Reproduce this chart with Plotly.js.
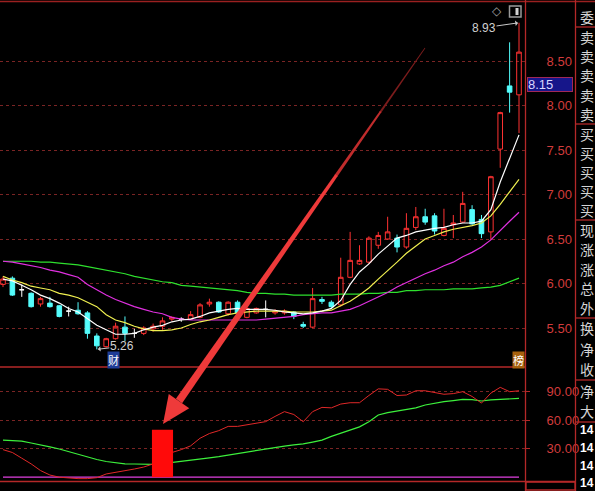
<!DOCTYPE html>
<html>
<head>
<meta charset="utf-8">
<script src="https://cdn.plot.ly/plotly-3.0.1.min.js"></script>
<style>
  html, body { margin: 0; padding: 0; background: #000; }
  #chart { width: 595px; height: 491px; }
</style>
</head>
<body>
<div id="chart"></div>
<script>
// Daily K-line: open / high / low / close
const opens  = [5.99,6.06,5.93,5.89,5.77,5.78,5.75,5.69,5.70,5.67,5.41,5.29,5.38,5.51,5.44,5.44,5.49,5.52,5.60,5.60,
                5.60,5.62,5.77,5.79,5.66,5.79,5.62,5.67,5.71,5.67,5.67,5.68,5.54,5.51,5.82,5.79,5.76,6.07,6.22,6.24,
                6.43,6.50,6.51,6.41,6.63,6.75,6.76,6.54,6.66,6.69,6.83,6.72,6.58,7.51,8.22,8.12];
const highs  = [6.08,6.08,5.99,5.90,5.85,5.85,5.76,5.74,5.79,5.69,5.44,5.39,5.56,5.63,5.49,5.52,5.55,5.62,5.63,5.62,
                5.69,5.78,5.83,5.80,5.80,5.81,5.73,5.73,5.81,5.71,5.71,5.69,5.57,5.95,5.85,5.81,6.29,6.58,6.43,6.53,
                6.58,6.75,6.55,6.79,6.86,6.84,6.79,6.84,6.77,7.03,6.88,6.77,7.21,7.93,8.71,8.93];
const lows   = [5.96,5.86,5.85,5.73,5.74,5.73,5.62,5.63,5.65,5.38,5.26,5.28,5.37,5.35,5.39,5.42,5.46,5.48,5.58,5.57,
                5.59,5.61,5.74,5.67,5.64,5.66,5.61,5.66,5.62,5.65,5.65,5.60,5.50,5.50,5.77,5.72,5.74,6.06,6.21,6.22,
                6.39,6.49,6.35,6.39,6.60,6.66,6.55,6.53,6.51,6.68,6.66,6.51,6.49,7.30,7.92,7.69];
const closes = [6.05,5.87,5.93,5.74,5.83,5.74,5.63,5.69,5.66,5.44,5.30,5.38,5.52,5.44,5.44,5.50,5.52,5.58,5.62,5.60,
                5.65,5.76,5.79,5.68,5.79,5.67,5.72,5.72,5.71,5.69,5.69,5.63,5.52,5.83,5.80,5.74,6.07,6.26,6.26,6.51,
                6.54,6.58,6.41,6.62,6.75,6.69,6.59,6.62,6.68,6.90,6.67,6.56,7.20,7.92,8.15,8.60];

// Moving averages
const ma5  = [6.05,6.03,5.98,5.93,5.87,5.83,5.78,5.72,5.68,5.61,5.53,5.48,5.43,5.43,5.44,5.48,5.51,5.53,5.57,5.59,
              5.60,5.63,5.67,5.69,5.71,5.72,5.71,5.71,5.71,5.70,5.68,5.67,5.66,5.67,5.69,5.72,5.81,5.99,6.13,6.22,
              6.33,6.42,6.51,6.54,6.58,6.60,6.62,6.63,6.66,6.68,6.68,6.70,6.83,7.14,7.41,7.67];
const ma10 = [6.08,6.04,6.01,5.97,5.95,5.93,5.89,5.87,5.84,5.79,5.74,5.65,5.59,5.56,5.52,5.49,5.47,5.47,5.48,5.50,
              5.54,5.57,5.59,5.62,5.65,5.67,5.68,5.69,5.69,5.69,5.69,5.68,5.68,5.68,5.69,5.70,5.75,5.80,5.87,5.95,
              6.05,6.14,6.24,6.34,6.42,6.50,6.54,6.58,6.61,6.63,6.65,6.68,6.76,6.89,7.03,7.17];
const ma20 = [6.25,6.24,6.22,6.20,6.18,6.15,6.13,6.10,6.07,5.99,5.93,5.87,5.82,5.78,5.74,5.71,5.68,5.66,5.62,5.60,
              5.59,5.59,5.59,5.59,5.59,5.59,5.59,5.59,5.60,5.61,5.62,5.63,5.65,5.66,5.67,5.67,5.69,5.71,5.75,5.80,
              5.85,5.90,5.96,6.01,6.06,6.11,6.15,6.20,6.24,6.30,6.35,6.41,6.49,6.60,6.70,6.80];
const ma60 = [6.25,6.25,6.25,6.25,6.24,6.24,6.23,6.22,6.21,6.19,6.17,6.15,6.13,6.11,6.08,6.06,6.04,6.02,6.01,5.98,
              5.97,5.96,5.95,5.94,5.93,5.92,5.90,5.89,5.89,5.88,5.88,5.87,5.87,5.87,5.87,5.87,5.88,5.88,5.88,5.89,
              5.89,5.90,5.90,5.92,5.92,5.93,5.93,5.93,5.94,5.94,5.94,5.95,5.96,5.98,6.02,6.06];

// Oscillator panel
const fastLine = [29,26,20,14,7,2.3,0,-1,-1.5,-1.5,-0.5,3.4,5,6.5,8.6,10.7,14,20,26,29,
                  33,41,46,49,53.5,53.5,55,56.5,58.5,64,69,66,58.4,69,73.5,73,77,78.4,78.4,86,
                  93,92.5,86,86.5,91,91,89,87.3,88,90,85,78,88.5,94.6,90,91];
const slowLine = [39,38.6,38,36,33.6,32,29.7,27,24,21,18.6,16.5,15,14,13.9,13.4,13.5,14.2,15.3,16.5,
                  18,19,20.3,21.6,23.3,25,26.5,28,29.4,31,32.8,34,35,37,39,43,46.5,49.7,53,58.4,
                  65.5,68,69.7,71,73,76,78,79.5,80.7,82,81.6,80.2,81.3,81.8,82.3,83];
const floorLine = [0, 0];
const signalDay = 17;
const signalValue = 50;

// Axis ticks
const priceTicks = [5.5, 6.0, 6.5, 7.0, 7.5, 8.0, 8.5];
const oscTicks = [30, 60, 90];

// Quote panel row captions
const quoteRows = ['委','卖','卖','卖','卖','卖','买','买','买','买','买','现','涨','涨','总','外','换','净','收','净','大'];
const timeRows = ['14','14','14','14'];

const days = opens.map((_, i) => i);
const isDoji = days.map(i => opens[i] === closes[i]);
const pick = (arr, keepDoji) => arr.map((v, i) => (isDoji[i] === keepDoji ? v : null));

const W = 595, H = 491;
const px = v => v / W;
const py = v => 1 - v / H;

const RED = '#ff3232', CYAN = '#54fcfc';

const traces = [
  { type: 'scatter', mode: 'lines', x: days, y: ma60, xaxis: 'x', yaxis: 'y', line: { color: '#2ee02e', width: 1.2 }, hoverinfo: 'skip' },
  { type: 'scatter', mode: 'lines', x: days, y: ma20, xaxis: 'x', yaxis: 'y', line: { color: '#e030e0', width: 1.2 }, hoverinfo: 'skip' },
  { type: 'scatter', mode: 'lines', x: days, y: ma10, xaxis: 'x', yaxis: 'y', line: { color: '#f0f050', width: 1.2 }, hoverinfo: 'skip' },
  { type: 'scatter', mode: 'lines', x: days, y: ma5,  xaxis: 'x', yaxis: 'y', line: { color: '#ffffff', width: 1.2 }, hoverinfo: 'skip' },
  {
    type: 'candlestick', x: days,
    open: pick(opens, false), high: pick(highs, false), low: pick(lows, false), close: pick(closes, false),
    xaxis: 'x', yaxis: 'y', whiskerwidth: 0,
    increasing: { line: { color: RED, width: 1 }, fillcolor: 'rgba(0,0,0,0)' },
    decreasing: { line: { color: CYAN, width: 1 }, fillcolor: CYAN },
    hoverinfo: 'skip'
  },
  {
    type: 'candlestick', x: days,
    open: pick(opens, true), high: pick(highs, true), low: pick(lows, true), close: pick(closes, true),
    xaxis: 'x', yaxis: 'y', whiskerwidth: 0,
    increasing: { line: { color: '#ffffff', width: 1 }, fillcolor: '#ffffff' },
    decreasing: { line: { color: '#ffffff', width: 1 }, fillcolor: '#ffffff' },
    hoverinfo: 'skip'
  },
  { type: 'scatter', mode: 'lines', x: [days[0], days[days.length - 1]], y: floorLine, xaxis: 'x', yaxis: 'y2', line: { color: '#e040e0', width: 1.2 }, hoverinfo: 'skip' },
  { type: 'scatter', mode: 'lines', x: days, y: slowLine, xaxis: 'x', yaxis: 'y2', line: { color: '#3cf03c', width: 1.2 }, hoverinfo: 'skip' },
  { type: 'scatter', mode: 'lines', x: days, y: fastLine, xaxis: 'x', yaxis: 'y2', line: { color: '#e02828', width: 1 }, hoverinfo: 'skip' },
  { type: 'bar', x: [signalDay], y: [signalValue], width: [2.25], xaxis: 'x', yaxis: 'y3', marker: { color: '#ff0a0a', line: { width: 0 } }, hoverinfo: 'skip' }
];

const FRAME = '#b42828';
const hLine = (x0, x1, y, color) => ({ type: 'line', xref: 'paper', yref: 'paper', x0: px(x0), x1: px(x1), y0: py(y), y1: py(y), line: { color: color || FRAME, width: 1.3 }, layer: 'above' });
const vLine = (x, y0, y1) => ({ type: 'line', xref: 'paper', yref: 'paper', x0: px(x), x1: px(x), y0: py(y0), y1: py(y1), line: { color: FRAME, width: 1.3 }, layer: 'above' });
const poly = (pts, color) => ({
  type: 'path', xref: 'paper', yref: 'paper', layer: 'above',
  path: 'M ' + pts.map(p => px(p[0]).toFixed(5) + ',' + py(p[1]).toFixed(5)).join(' L ') + ' Z',
  fillcolor: color, line: { width: 0 }
});

// Pointer arrow from the upper chart down to the signal bar
const tail = [425, 48], tip = [163, 424];
const len = Math.hypot(tip[0] - tail[0], tip[1] - tail[1]);
const ux = (tip[0] - tail[0]) / len, uy = (tip[1] - tail[1]) / len;
const nx = uy, ny = -ux;
const headLen = 28, headHalf = 12.5;
const shaftEnd = len - headLen;
const along = (d, w) => [tail[0] + ux * d + nx * w, tail[1] + uy * d + ny * w];
const halfW = d => 0.4 + 3.4 * (d / shaftEnd);
const arrowShapes = [];
const cuts = [[0, 0.18, '#7c1c1c'], [0.18, 0.36, '#c02c2c'], [0.36, 1.0, '#ee3a3a']];
cuts.forEach(([a, b, col]) => {
  const d0 = a * shaftEnd, d1 = b * shaftEnd + (b < 1 ? 1 : 0);
  arrowShapes.push(poly([along(d0, halfW(d0)), along(d1, halfW(d1)), along(d1, -halfW(d1)), along(d0, -halfW(d0))], col));
});
arrowShapes.push(poly([along(shaftEnd, headHalf), tip, along(shaftEnd, -headHalf)], '#ee3a3a'));

const shapes = [
  hLine(0, 595, 1.5, '#9a2020'),
  hLine(0, 526, 367),
  hLine(0, 576, 481.5),
  vLine(525.5, 0, 491),
  vLine(575.5, 0, 491),
  { type: 'rect', xref: 'paper', yref: 'paper', x0: px(526), x1: px(575), y0: py(490), y1: py(482), line: { color: FRAME, width: 1.3 } },
  ...[27, 124, 220, 318, 380, 422].map(y => hLine(576, 595, y)),
  // top-right toolbar icon
  { type: 'rect', xref: 'paper', yref: 'paper', x0: px(509.5), x1: px(521), y0: py(17), y1: py(6), line: { color: '#9a9a9a', width: 1.5 } },
  { type: 'rect', xref: 'paper', yref: 'paper', x0: px(515.5), x1: px(518.5), y0: py(15), y1: py(8), fillcolor: '#d0d0d0', line: { width: 0 } },
  ...arrowShapes
];

const rowY = [17, 37, 56, 75, 95, 114, 134, 153, 172, 191, 210, 230, 249, 269, 288, 308, 328, 349, 369, 391, 411];
const timeY = [430, 448, 466, 483];

const annotations = [
  ...quoteRows.map((t, i) => ({
    xref: 'paper', yref: 'paper', x: px(578.5), y: py(rowY[i]), xanchor: 'left', yanchor: 'middle',
    text: t, showarrow: false, borderpad: 0, font: { family: 'Noto Sans CJK SC', size: 14, color: '#d4d4d4' }
  })),
  ...timeRows.map((t, i) => ({
    xref: 'paper', yref: 'paper', x: px(578.5), y: py(timeY[i]), xanchor: 'left', yanchor: 'middle',
    text: '<b>' + t + '</b>', showarrow: false, borderpad: 0, font: { family: 'Liberation Sans, Arial, sans-serif', size: 12, color: '#ffffff' }
  })),
  // current price marker
  {
    xref: 'paper', yref: 'y', x: px(526.5), y: closes[54], xanchor: 'left', yanchor: 'bottom',
    text: closes[54].toFixed(2), showarrow: false, align: 'left', width: 44, height: 13,
    bgcolor: '#16168a', bordercolor: '#a02858', borderwidth: 1, borderpad: 0,
    font: { family: 'Liberation Sans, Arial, sans-serif', size: 13, color: '#d8d8ff' }
  },
  // high / low callouts
  {
    xref: 'x', yref: 'y', x: days[55], y: highs[55], ax: -35, ay: 5, axref: 'pixel', ayref: 'pixel',
    text: highs[55].toFixed(2), showarrow: true, arrowhead: 1, arrowsize: 0.9, arrowwidth: 1, arrowcolor: '#c8c8c8', standoff: 1,
    borderpad: 0, font: { family: 'Liberation Sans, Arial, sans-serif', size: 12, color: '#d0d0d0' }
  },
  {
    xref: 'x', yref: 'y', x: days[10], y: lows[10], ax: 25, ay: -3, axref: 'pixel', ayref: 'pixel',
    text: lows[10].toFixed(2), showarrow: true, arrowhead: 1, arrowsize: 0.9, arrowwidth: 1, arrowcolor: '#c8c8c8', standoff: 1,
    borderpad: 0, font: { family: 'Liberation Sans, Arial, sans-serif', size: 12, color: '#d0d0d0' }
  },
  // event badges
  {
    xref: 'paper', yref: 'paper', x: px(113.5), y: py(360), xanchor: 'center', yanchor: 'middle',
    text: '财', showarrow: false, bgcolor: '#1e3c96', borderpad: 0,
    font: { family: 'Noto Sans CJK SC', size: 11, color: '#ffffff' }
  },
  {
    xref: 'paper', yref: 'paper', x: px(518.5), y: py(359.5), xanchor: 'center', yanchor: 'middle',
    text: '榜', showarrow: false, bgcolor: '#a8620e', borderpad: 0,
    font: { family: 'Noto Sans CJK SC', size: 11, color: '#ffffff' }
  },
  {
    xref: 'paper', yref: 'paper', x: px(497), y: py(11.5), xanchor: 'center', yanchor: 'middle',
    text: '◇', showarrow: false, font: { family: 'DejaVu Sans', size: 12, color: '#a0a0a0' }
  }
];

const tickFont = { family: 'Liberation Sans, Arial, sans-serif', size: 13, color: '#d23c3c' };
const GRID = '#7a2424';
const CLEAR = 'rgba(0,0,0,0)';

// label axes: long transparent ticks push the labels away from the frame
const labelAxis = (domain, range, vals) => ({
  domain: domain, range: range, anchor: 'x', side: 'right',
  tickmode: 'array', tickvals: vals, tickformat: '.2f', tickfont: tickFont,
  ticks: 'outside', ticklen: 18, tickcolor: CLEAR,
  showgrid: true, gridcolor: GRID, griddash: 'dot', gridwidth: 1,
  zeroline: false, showline: false, fixedrange: true
});
// mark axes: short visible tick marks on the frame
const markAxis = (over, range, vals) => ({
  overlaying: over, anchor: 'x', side: 'right', range: range,
  tickmode: 'array', tickvals: vals, ticks: 'outside', ticklen: 4, tickcolor: FRAME,
  showticklabels: false, showgrid: false, zeroline: false, showline: false, fixedrange: true
});

const priceRange = [5.062, 9.163];
const oscRange = [-5.05, 116];

const layout = {
  width: W, height: H,
  margin: { l: 0, r: 0, t: 0, b: 0, pad: 0 },
  paper_bgcolor: '#000', plot_bgcolor: '#000',
  showlegend: false, hovermode: false,
  xaxis: {
    domain: [0, px(525)], range: [-0.32, 55.64], anchor: 'y2',
    showgrid: false, zeroline: false, showticklabels: false, ticks: '', showline: false,
    rangeslider: { visible: false }, fixedrange: true
  },
  yaxis: labelAxis([py(367), py(2)], priceRange, priceTicks),
  yaxis2: labelAxis([py(482), py(367)], oscRange, oscTicks),
  yaxis3: markAxis('y2', oscRange, oscTicks),
  yaxis4: markAxis('y', priceRange, priceTicks),
  shapes: shapes,
  annotations: annotations
};

Plotly.newPlot('chart', traces, layout, { staticPlot: true, displayModeBar: false });
</script>
</body>
</html>
